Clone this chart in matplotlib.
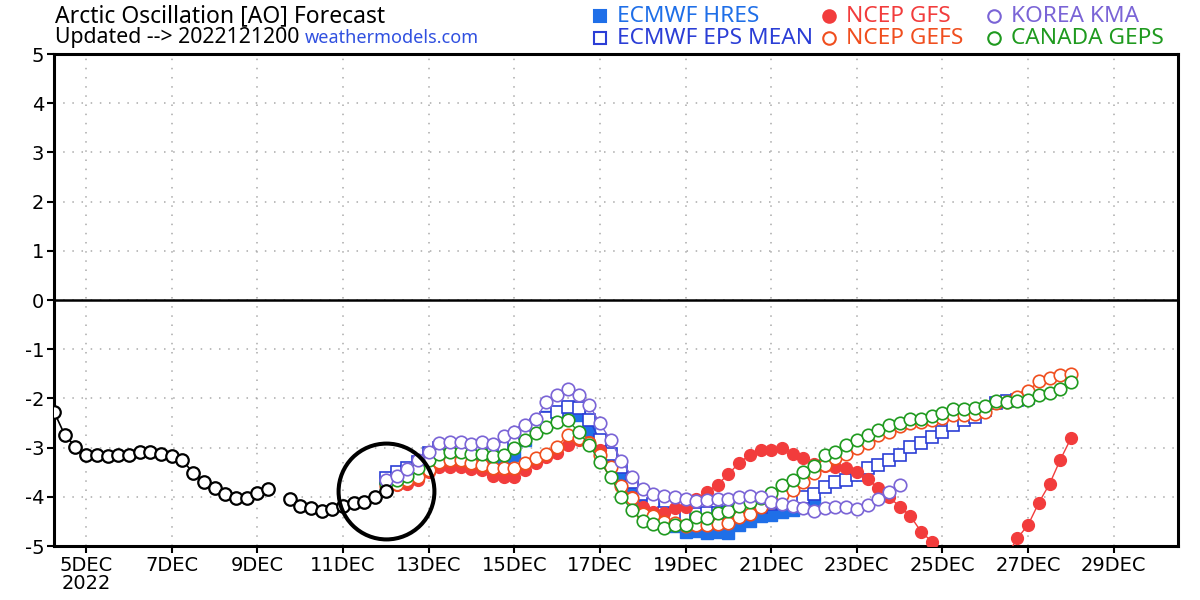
import numpy as np
import matplotlib
matplotlib.use("Agg")
import matplotlib.pyplot as plt
from matplotlib.lines import Line2D

# observed AO, 6-hourly from 4 Dec 06Z to 12 Dec 00Z (nan = missing)
obs_start = 4.25
observed = [-2.27, -2.74, -2.98, -3.15, -3.15, -3.18, -3.15, -3.15, -3.08, -3.08,
            -3.13, -3.17, -3.25, -3.52, -3.69, -3.83, -3.95, -4.03, -4.03, -3.93,
            -3.85, np.nan, -4.04, -4.19, -4.22, -4.29, -4.25, -4.19, -4.12, -4.10,
            -4.00, -3.88]

# forecasts, 6-hourly from 12 Dec 00Z
fc_start = 12.0
ecmwf_hres = [-3.65, -3.52, -3.45, -3.32, -3.20, -3.20, -3.18, -3.20, -3.22, -3.25,
              -3.25, -3.20, -3.15, -2.85, -2.55, -2.37, -2.29, -2.18, -2.34, -2.66,
              -2.95, -3.30, -3.60, -3.85, -4.05, -4.25, -4.40, -4.60, -4.72, -4.70,
              -4.73, -4.72, -4.74, -4.58, -4.50, -4.40, -4.37, -4.30, -4.27, -4.20,
              -4.13]
ecmwf_eps = [-3.62, -3.49, -3.42, -3.29, -3.10, -3.00, -3.00, -3.00, -3.05, -3.05,
             -3.08, -3.00, -2.90, -2.70, -2.55, -2.40, -2.28, -2.18, -2.20, -2.44,
             -2.85, -3.12, -3.39, -3.69, -3.95, -4.15, -4.32, -4.35, -4.40, -4.35,
             -4.33, -4.32, -4.30, -4.28, -4.25, -4.20, -4.15, -4.12, -4.08, -4.00,
             -3.95, -3.80, -3.70, -3.65, -3.56, -3.42, -3.35, -3.25, -3.15, -2.99,
             -2.90, -2.78, -2.68, -2.54, -2.44, -2.37, -2.24, -2.10, -2.06, -2.03,
             -2.00]
ncep_gfs = [-3.78, -3.76, -3.73, -3.66, -3.50, -3.39, -3.39, -3.40, -3.44, -3.46,
            -3.58, -3.59, -3.60, -3.46, -3.32, -3.20, -3.10, -2.95, -2.85, -2.88,
            -3.05, -3.40, -3.79, -4.00, -4.20, -4.30, -4.32, -4.23, -4.20, -4.05,
            -3.90, -3.75, -3.54, -3.31, -3.15, -3.04, -3.04, -3.01, -3.12, -3.22,
            -3.33, -3.38, -3.39, -3.42, -3.50, -3.63, -3.83, -4.00, -4.20, -4.39,
            -4.71, -4.91, -5.20, -5.50, -5.80, -6.00, -5.90, -5.60, -5.20, -4.84,
            -4.57, -4.12, -3.74, -3.25, -2.81]
ncep_gefs = [-3.78, -3.73, -3.65, -3.59, -3.46, -3.29, -3.25, -3.25, -3.31, -3.35,
             -3.42, -3.42, -3.42, -3.31, -3.22, -3.12, -2.98, -2.74, -2.81, -2.90,
             -3.15, -3.40, -3.79, -4.03, -4.34, -4.40, -4.51, -4.54, -4.60, -4.57,
             -4.58, -4.56, -4.54, -4.42, -4.35, -4.21, -4.10, -3.96, -3.86, -3.69,
             -3.52, -3.35, -3.22, -3.12, -3.01, -2.90, -2.74, -2.68, -2.57, -2.51,
             -2.47, -2.44, -2.39, -2.34, -2.34, -2.32, -2.27, -2.10, -2.07, -1.97,
             -1.85, -1.65, -1.59, -1.53, -1.50]
korea_kma = [-3.65, -3.58, -3.43, -3.25, -3.08, -2.90, -2.88, -2.88, -2.93, -2.88,
             -2.93, -2.76, -2.69, -2.54, -2.42, -2.07, -1.93, -1.80, -1.93, -2.13,
             -2.51, -2.85, -3.27, -3.59, -3.85, -3.94, -3.98, -4.00, -4.05, -4.08,
             -4.07, -4.05, -4.05, -4.01, -3.98, -4.01, -4.10, -4.15, -4.19, -4.23,
             -4.28, -4.23, -4.21, -4.21, -4.25, -4.16, -4.04, -3.90, -3.76]
canada_geps = [-3.72, -3.66, -3.58, -3.42, -3.25, -3.12, -3.08, -3.08, -3.12, -3.12,
               -3.17, -3.15, -3.01, -2.85, -2.71, -2.58, -2.48, -2.44, -2.68, -2.95,
               -3.29, -3.60, -4.00, -4.27, -4.50, -4.55, -4.64, -4.57, -4.57, -4.42,
               -4.44, -4.32, -4.28, -4.19, -4.10, -4.03, -3.92, -3.76, -3.66, -3.49,
               -3.37, -3.15, -3.08, -2.95, -2.85, -2.75, -2.64, -2.54, -2.49, -2.41,
               -2.41, -2.36, -2.30, -2.22, -2.22, -2.20, -2.15, -2.05, -2.07, -2.05,
               -2.03, -1.93, -1.90, -1.80, -1.66]

tick_days = [5, 7, 9, 11, 13, 15, 17, 19, 21, 23, 25, 27, 29]
tick_labels = ["5DEC\n2022"] + ["%dDEC" % d for d in tick_days[1:]]

c_hres = "#1f6fe8"
c_eps = "#2b3ed6"
c_gfs = "#f23c3c"
c_gefs = "#f04e1e"
c_kma = "#7a64d6"
c_geps = "#1f9a1f"

fig = plt.figure(figsize=(12, 6), dpi=100)
ax = fig.add_axes([54 / 1200, 54 / 600, 1124 / 1200, 492 / 600])


def fc_x(vals):
    return fc_start + 0.25 * np.arange(len(vals))


obs_x = obs_start + 0.25 * np.arange(len(observed))
ax.plot(obs_x, observed, color="k", lw=1.2, marker="o", ms=9, mfc="white",
        mec="k", mew=1.6, zorder=6)

ax.plot(fc_x(ecmwf_hres), ecmwf_hres, color=c_hres, lw=1, marker="s", ms=8,
        mfc=c_hres, mec=c_hres, zorder=3)
ax.plot(fc_x(ecmwf_eps), ecmwf_eps, color=c_eps, lw=1, marker="s", ms=9,
        mfc="white", mec=c_eps, mew=1.2, zorder=4)
ax.plot(fc_x(ncep_gfs), ncep_gfs, color=c_gfs, lw=1, marker="o", ms=8.5,
        mfc=c_gfs, mec=c_gfs, zorder=4.5)
ax.plot(fc_x(ncep_gefs), ncep_gefs, color=c_gefs, lw=1, marker="o", ms=9,
        mfc="white", mec=c_gefs, mew=1.2, zorder=5)
ax.plot(fc_x(canada_geps), canada_geps, color=c_geps, lw=1, marker="o", ms=9,
        mfc="white", mec=c_geps, mew=1.2, zorder=5.2)
ax.plot(fc_x(korea_kma), korea_kma, color=c_kma, lw=1, marker="o", ms=9,
        mfc="white", mec=c_kma, mew=1.2, zorder=5.5)

# big circle around the analysis time
ax.plot(obs_x[-1], observed[-1], marker="o", ms=69, mfc="none", mec="k",
        mew=2.9, zorder=7, clip_on=False)

ax.axhline(0, color="k", lw=1.8, zorder=2)

ax.set_xlim(4.25, 30.5)
ax.set_ylim(-5, 5)
ax.set_yticks(range(-5, 6))
ax.set_yticklabels([str(v) for v in range(-5, 6)])
ax.set_xticks(tick_days)
ax.set_xticklabels(tick_labels, linespacing=0.95)
ax.grid(True, color="#aaaaaa", lw=1.1, ls=(0, (1, 5)))
ax.set_axisbelow(True)
ax.tick_params(direction="out", length=5, width=1.5, labelsize=14,
               colors="k", pad=2)
for s in ax.spines.values():
    s.set_linewidth(2.2)

# header text
fig.text(55 / 1200, 1 - 16 / 600, "Arctic Oscillation [AO] Forecast",
         family="Noto Sans", fontsize=16.5, va="center", ha="left")
fig.text(55 / 1200, 1 - 38 / 600, "Updated --> 2022121200",
         family="Noto Sans", fontsize=15.3, va="center", ha="left")
fig.text(305 / 1200, 1 - 38 / 600, "weathermodels.com", color="#3050e0",
         family="Noto Sans", fontsize=13, va="center", ha="left")

# legend
legend_items = [
    (600, 16, "s", c_hres, c_hres, "ECMWF HRES"),
    (600, 38, "s", "white", c_eps, "ECMWF EPS MEAN"),
    (829, 16, "o", c_gfs, c_gfs, "NCEP GFS"),
    (829, 38, "o", "white", c_gefs, "NCEP GEFS"),
    (994, 16, "o", "white", c_kma, "KOREA KMA"),
    (994, 38, "o", "white", c_geps, "CANADA GEPS"),
]
for px, py, mk, fc, ec, label in legend_items:
    fig.add_artist(Line2D([px / 1200], [1 - py / 600], transform=fig.transFigure,
                          marker=mk, ms=9, mfc=fc, mec=ec, mew=1.5, ls="none"))
    fig.text((px + 17) / 1200, 1 - py / 600, label, color=ec,
             family="Noto Sans", fontsize=16.3, va="center", ha="left")

fig.savefig("out.png", dpi=100)
